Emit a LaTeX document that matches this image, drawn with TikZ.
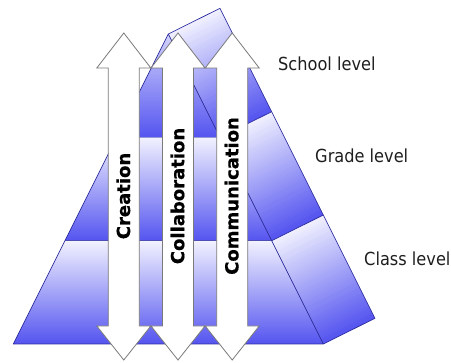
\documentclass[tikz,border=0pt]{standalone}
\usepackage{fontspec}
\setmainfont{DejaVu Sans}
\newfontfamily\lblfont[FakeStretch=0.9]{DejaVu Sans}
\newfontfamily\arwfont[BoldFeatures={FakeBold=0.6}]{DejaVu Sans}
\usetikzlibrary{calc}
\definecolor{pyrlight}{RGB}{242,242,255}
\definecolor{pyrdark}{RGB}{84,84,240}
\definecolor{pyredge}{RGB}{46,46,160}
\definecolor{arwedge}{RGB}{122,122,122}
\definecolor{lbltext}{RGB}{30,30,30}
\newcommand{\pyrside}[4]{%
  \begin{scope}
    \clip (#1) -- (#2) -- (#4) -- (#3) -- cycle;
    \foreach \i in {0,...,39}{%
      \pgfmathsetmacro{\va}{\i/40}%
      \pgfmathsetmacro{\vb}{(\i+1.2)/40}%
      \pgfmathtruncatemacro{\pc}{100-(\i+0.5)*2.5}%
      \fill[pyrlight!\pc!pyrdark] ($(#1)!\va!(#3)$) -- ($(#2)!\va!(#4)$) -- ($(#2)!\vb!(#4)$) -- ($(#1)!\vb!(#3)$) -- cycle;
    }
  \end{scope}}
\tikzset{
  band/.style={top color=pyrlight, bottom color=pyrdark},
  edge/.style={draw=pyredge, line width=0.7pt, line join=round},
  arw/.style={draw=arwedge, fill=white, line width=0.8pt, line join=miter},
  arwtext/.style={font=\arwfont\bfseries\fontsize{18}{20}\selectfont, rotate=90, anchor=base, inner sep=0pt, text=black},
  lvl/.style={font=\lblfont\fontsize{18}{20}\selectfont, anchor=base west, inner sep=0pt, text=lbltext}
}
\begin{document}
\begin{tikzpicture}[x=1pt,y=-1pt]
\useasboundingbox (0,0) rectangle (451,363);
% front corners
\coordinate (B0L) at (13.3,344);
\coordinate (B0R) at (323.3,344);
\coordinate (B1L) at (65,240.7);
\coordinate (B1R) at (271.7,240.7);
\coordinate (B2L) at (116.7,137.3);
\coordinate (B2R) at (220,137.3);
\coordinate (AP) at (168.3,34);
% back corners
\coordinate (K0) at (375,318.3);
\coordinate (K1) at (323.3,215);
\coordinate (K2) at (271.7,111.7);
\coordinate (K3) at (220,8.3);
% side faces
\pyrside{B1R}{K1}{B0R}{K0}
\pyrside{B2R}{K2}{B1R}{K1}
\pyrside{AP}{K3}{B2R}{K2}
% front bands
\fill[band] (B1L) -- (B1R) -- (B0R) -- (B0L) -- cycle;
\fill[band] (B2L) -- (B2R) -- (B1R) -- (B1L) -- cycle;
\begin{scope}
  \clip (AP) -- (B2R) -- (B2L) -- cycle;
  \fill[band] (100,8.3) rectangle (240,137.3);
\end{scope}
% edges
\draw[edge] (AP) -- (B0L) -- (B0R) -- (K0) -- (K3) -- (AP) -- (B0R);
\draw[edge] (B1R) -- (K1);
\draw[edge] (B2R) -- (K2);
% arrows
\foreach \c/\nm/\txt in {123.8/cre/Creation, 178/col/Collaboration, 232.2/com/Communication}{
  \draw[arw] (\c,33) -- (\c+27,68) -- (\c+15.5,68) -- (\c+15.5,326) -- (\c+27,326) -- (\c,360)
     -- (\c-27,326) -- (\c-15.5,326) -- (\c-15.5,68) -- (\c-27,68) -- cycle;
  \node[arwtext] (\nm) at (\c+6.2,196) {\txt};
}
% level labels
\node[lvl] (school) at (278,70.5) {School level};
\node[lvl] (grade) at (315,162.5) {Grade level};
\node[lvl] (class) at (364,265.7) {Class level};
\end{tikzpicture}
\end{document}
